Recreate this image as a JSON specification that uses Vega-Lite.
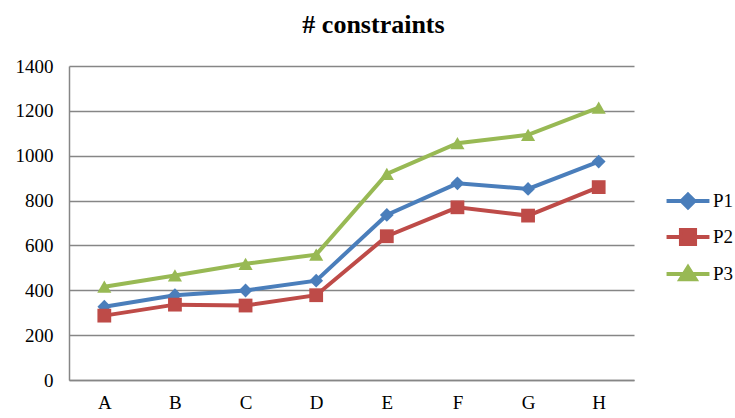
{
  "$schema": "https://vega.github.io/schema/vega-lite/v6.json",
  "width": 565,
  "height": 314,
  "autosize": {"type": "none"},
  "padding": {"left": 69, "top": 66, "right": 101, "bottom": 38},
  "background": "white",
  "title": {"text": "# constraints", "font": "Liberation Serif", "fontSize": 26, "fontWeight": "bold", "color": "black", "anchor": "middle", "dx": 22, "offset": 19},
  "config": {"view": {"stroke": null}},
  "data": {"values": [
    {"cat": "A", "series": "P1", "v": 327}, {"cat": "B", "series": "P1", "v": 378}, {"cat": "C", "series": "P1", "v": 399}, {"cat": "D", "series": "P1", "v": 443},
    {"cat": "E", "series": "P1", "v": 736}, {"cat": "F", "series": "P1", "v": 877}, {"cat": "G", "series": "P1", "v": 852}, {"cat": "H", "series": "P1", "v": 974},
    {"cat": "A", "series": "P2", "v": 287}, {"cat": "B", "series": "P2", "v": 336}, {"cat": "C", "series": "P2", "v": 332}, {"cat": "D", "series": "P2", "v": 378},
    {"cat": "E", "series": "P2", "v": 641}, {"cat": "F", "series": "P2", "v": 770}, {"cat": "G", "series": "P2", "v": 733}, {"cat": "H", "series": "P2", "v": 860},
    {"cat": "A", "series": "P3", "v": 416}, {"cat": "B", "series": "P3", "v": 466}, {"cat": "C", "series": "P3", "v": 518}, {"cat": "D", "series": "P3", "v": 559},
    {"cat": "E", "series": "P3", "v": 919}, {"cat": "F", "series": "P3", "v": 1056}, {"cat": "G", "series": "P3", "v": 1093}, {"cat": "H", "series": "P3", "v": 1214}
  ]},
  "encoding": {
    "x": {"field": "cat", "type": "nominal", "title": null, "scale": {"type": "point", "padding": 0.5},
      "axis": {"labelAngle": 0, "labelFont": "Liberation Serif", "labelFontSize": 19, "labelColor": "black", "ticks": false, "labelPadding": 13, "domainColor": "#868686", "domainWidth": 1.5, "grid": false}},
    "y": {"field": "v", "type": "quantitative", "title": null, "scale": {"domain": [0, 1400], "nice": false},
      "axis": {"values": [0, 200, 400, 600, 800, 1000, 1200, 1400], "format": "d", "labelFont": "Liberation Serif", "labelFontSize": 19, "labelColor": "black", "ticks": false, "labelPadding": 16, "domainColor": "#868686", "domainWidth": 1.5, "grid": true, "gridColor": "#868686", "gridWidth": 1.5}},
    "color": {"field": "series", "type": "nominal", "title": null,
      "scale": {"domain": ["P1", "P2", "P3"], "range": ["#4A7EBB", "#BE4B48", "#98B954"]},
      "legend": {"orient": "none", "legendX": 602, "legendY": 118, "symbolSize": 900, "symbolStrokeWidth": 4, "labelOffset": 8, "rowPadding": 4,
        "labelFont": "Liberation Serif", "labelFontSize": 19, "labelColor": "black",
        "encode": {"symbols": {"update": {
          "shape": {"signal": "datum.value === 'P1' ? 'M-1.43,0H1.43M0,-0.43L0.43,0L0,0.43L-0.43,0Z' : datum.value === 'P2' ? 'M-1.43,0H1.43M-0.47,-0.47H0.47V0.47H-0.47Z' : 'M-1.43,0H1.43M0,-0.45L0.5,0.35L-0.5,0.35Z'"},
          "fill": {"signal": "scale('color', datum.value)"},
          "stroke": {"signal": "scale('color', datum.value)"},
          "strokeWidth": {"value": 4},
          "opacity": {"value": 1}
        }}}}
    }
  },
  "layer": [
    {"mark": {"type": "line", "strokeWidth": 4}},
    {"transform": [{"filter": "datum.series === 'P1'"}], "mark": {"type": "point", "filled": true, "size": 190, "opacity": 1, "shape": "diamond"}},
    {"transform": [{"filter": "datum.series === 'P2'"}], "mark": {"type": "point", "filled": true, "size": 190, "opacity": 1, "shape": "square"}},
    {"transform": [{"filter": "datum.series === 'P3'"}], "mark": {"type": "point", "filled": true, "size": 200, "opacity": 1, "shape": "triangle-up"}}
  ]
}
